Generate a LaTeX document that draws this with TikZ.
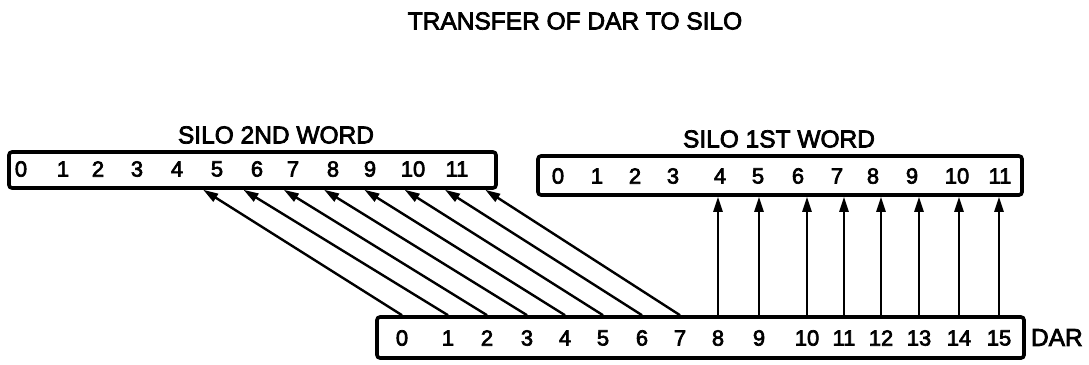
\documentclass[tikz,border=0pt]{standalone}
\usepackage{fontspec}
\setmainfont{Liberation Sans}[FakeBold=3]
\usetikzlibrary{arrows.meta, calc}

\begin{document}
\begin{tikzpicture}[
		x=1pt, y=-1pt,
		>={Triangle[length=15pt, width=9pt]},
		regbox/.style={draw, line width=3.6pt, rounded corners=3pt, inner sep=0pt},
		bit/.style={font=\fontsize{22}{25}\selectfont, inner sep=0pt},
		caption/.style={font=\fontsize{24.5}{28}\selectfont, inner sep=0pt},
		xfer/.style={->, line width=2.4pt}
		]
		\useasboundingbox (0,0) rectangle (1089,364);
		
		% --- Title ---
		\node[caption] (title) at (575,21) {TRANSFER OF DAR TO SILO};
		
		% --- Silo 2nd word (left register) ---
		\node[regbox, minimum width=487pt, minimum height=36pt] (silo2) at (252.5,170) {};
		\node[caption] (silo2lbl) at (276,135) {SILO 2ND WORD};
		\foreach \i/\x in {0/21, 1/63, 2/98, 3/137, 4/177, 5/217, 6/257, 7/293, 8/333, 9/370, 10/413, 11/457}
		\node[bit] (b\i) at (\x,169) {\i};
		
		% --- Silo 1st word (right register) ---
		\node[regbox, minimum width=484pt, minimum height=39pt] (silo1) at (780,175.5) {};
		\node[caption] (silo1lbl) at (779,139) {SILO 1ST WORD};
		\foreach \i/\x in {0/558, 1/597, 2/635, 3/673, 4/720, 5/758, 6/798, 7/837, 8/873, 9/912, 10/957, 11/1000}
		\node[bit] (a\i) at (\x,176) {\i};
		
		% --- DAR register ---
		\node[regbox, minimum width=647pt, minimum height=41pt] (dar) at (700.5,337.5) {};
		\node[caption, anchor=west] (darlbl) at ($(dar.east)+(5,0)$) {DAR};
		\foreach \i/\x in {0/402, 1/448, 2/487, 3/527, 4/565, 5/603, 6/642, 7/680, 8/718, 9/759, 10/807, 11/844, 12/881, 13/919, 14/959, 15/999}
		\node[bit] (d\i) at (\x,338) {\i};
		
		% Arrow tips along the bottom of the 2nd word
		\foreach \k in {0,...,7}
		\coordinate (t\k) at ($(silo2.south west)+({196+40.3*\k},0)$);
		
		% DAR 0-7 -> silo 2nd word
		\foreach \k in {0,...,7}
		\draw[xfer] (d\k.north |- dar.north) -- (t\k);
		
		% DAR 8-15 -> silo 1st word 4-11
		\foreach \k in {8,...,15}
		\draw[xfer] (d\k.north |- dar.north) -- (d\k.north |- silo1.south);
		
	\end{tikzpicture}
\end{document}
